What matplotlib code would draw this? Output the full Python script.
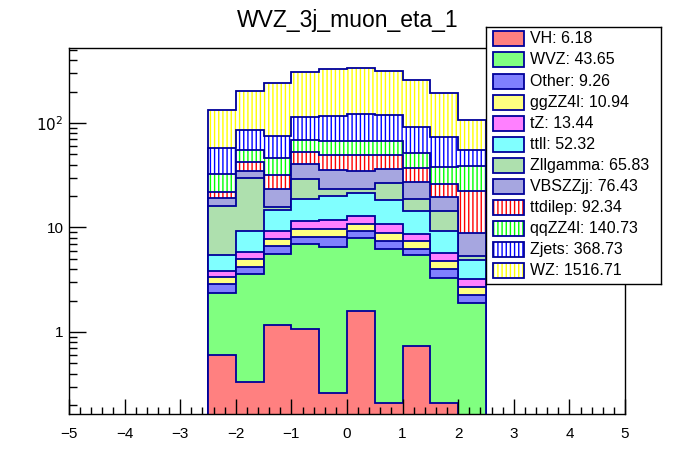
import numpy as np
import matplotlib
matplotlib.use("Agg")
import matplotlib.pyplot as plt
from matplotlib.patches import Rectangle
from matplotlib.ticker import FixedLocator, NullFormatter

plt.rcParams['font.family'] = ['Liberation Sans', 'DejaVu Sans']
plt.rcParams['hatch.linewidth'] = 1.0

edges = np.linspace(-2.5, 2.5, 11)

# bin contents per process, stacked bottom -> top
VH = [0.60, 0.33, 1.17, 1.07, 0.26, 1.59, 0.21, 0.74, 0.21, 0.0]
WVZ = [1.76, 3.26, 4.41, 5.88, 6.25, 6.35, 6.01, 4.72, 3.08, 1.90]
Other = [0.52, 0.60, 1.08, 1.16, 1.60, 1.32, 1.20, 0.77, 0.72, 0.37]
ggZZ4l = [0.48, 0.81, 1.11, 1.56, 1.56, 1.62, 1.43, 1.20, 0.77, 0.44]
tZ = [0.47, 0.84, 1.50, 1.77, 2.21, 2.09, 1.94, 1.24, 0.92, 0.52]
ttll = [1.62, 3.43, 5.45, 7.30, 8.14, 8.41, 7.53, 5.71, 3.56, 1.67]
Zllgamma = [10.61, 20.51, 1.00, 10.38, 3.34, 1.98, 8.33, 4.36, 5.12, 0.45]
VBSZZjj = [3.09, 4.96, 7.65, 11.41, 12.14, 11.37, 9.63, 8.51, 5.20, 3.52]
ttdilep = [2.71, 7.63, 8.44, 12.25, 13.90, 14.67, 13.11, 9.86, 6.50, 13.49]
qqZZ4l = [10.65, 12.80, 14.46, 15.99, 17.87, 17.87, 17.87, 14.52, 11.85, 16.43]
Zjets = [25.16, 30.54, 28.83, 45.33, 50.23, 54.63, 52.03, 39.92, 35.52, 16.38]
WZ = [75.5, 116.7, 166.3, 193.5, 211.1, 214.0, 195.2, 166.4, 120.3, 51.6]

names = ['VH', 'WVZ', 'Other', 'ggZZ4l', 'tZ', 'ttll', 'Zllgamma',
         'VBSZZjj', 'ttdilep', 'qqZZ4l', 'Zjets', 'WZ']
totals = [6.18, 43.65, 9.26, 10.94, 13.44, 52.32, 65.83,
          76.43, 92.34, 140.73, 368.73, 1516.71]
colors = ['#ff0000', '#00ff00', '#0000ff', '#ffff00', '#ff00ff', '#00ffff',
          '#5cc05c', '#4c4cc0', '#ff0000', '#00ff00', '#0000ff', '#ffff00']
styles = ['check'] * 8 + ['vline'] * 4
series = [VH, WVZ, Other, ggZZ4l, tZ, ttll, Zllgamma,
          VBSZZjj, ttdilep, qqZZ4l, Zjets, WZ]

edge_col = '#00009a'
ymin, ymax = 0.164, 522


def blend(c, f=0.5):
    rgb = np.array(matplotlib.colors.to_rgb(c))
    return tuple(rgb * f + (1 - f))


def draw_fill(ax, vals, col, style, base):
    if style == 'check':
        ax.stairs(vals, edges, baseline=base, fill=True,
                  facecolor=blend(col), linewidth=0)
    else:
        ax.stairs(vals, edges, baseline=base, fill=True,
                  facecolor='white', linewidth=0)
        ax.stairs(vals, edges, baseline=base, fill=True, facecolor='none',
                  edgecolor=col, hatch='||||', linewidth=0)


fig = plt.figure(figsize=(6.96, 4.72), dpi=100)
ax = fig.add_axes([69 / 696, 1 - 414 / 472, 556 / 696, 366 / 472])

cum = np.cumsum(np.array(series), axis=0)
base = 1e-3
for i in range(len(series) - 1, -1, -1):
    vals = np.where(cum[i] > 0, cum[i], base)
    draw_fill(ax, vals, colors[i], styles[i], base)
    ax.stairs(vals, edges, baseline=base, fill=False,
              color=edge_col, linewidth=1.3)

ax.set_yscale('log')
ax.set_xlim(-5, 5)
ax.set_ylim(ymin, ymax)
ax.yaxis.set_major_locator(FixedLocator([1, 10, 100]))
ax.set_yticklabels(['1', '10', r'$10^2$'])
ax.yaxis.set_minor_locator(FixedLocator(
    [k * 10.0 ** e for e in (-1, 0, 1, 2) for k in range(2, 10)]))
ax.yaxis.set_minor_formatter(NullFormatter())
ax.set_xticks(np.arange(-5, 6, 1))
ax.xaxis.set_minor_locator(FixedLocator(np.arange(-5, 5.01, 0.2)))
ax.tick_params(which='both', direction='in', top=False, right=False,
               labelsize=11, width=1)
ax.tick_params(axis='y', which='major', length=12, pad=4)
ax.tick_params(axis='y', which='minor', length=6)
ax.tick_params(axis='x', which='major', length=11, pad=9)
ax.tick_params(axis='x', which='minor', length=5)
for sp in ax.spines.values():
    sp.set_linewidth(1.0)

fig.text(0.5, 1 - 20 / 472, 'WVZ_3j_muon_eta_1', ha='center', va='center',
         fontsize=16.5)

# legend box, drawn in pixel units
lg = fig.add_axes([486 / 696, 1 - 284 / 472, 175 / 696, 257 / 472])
lg.set_xlim(0, 175)
lg.set_ylim(257, 0)
lg.set_xticks([])
lg.set_yticks([])
for sp in lg.spines.values():
    sp.set_linewidth(1.0)
for k in range(len(names)):
    yc = 11.8 + k * 21.1
    if styles[k] == 'check':
        lg.add_patch(Rectangle((7, yc - 7.5), 31, 15,
                               facecolor=blend(colors[k]), edgecolor='none'))
    else:
        lg.add_patch(Rectangle((7, yc - 7.5), 31, 15,
                               facecolor='white', edgecolor='none'))
        lg.add_patch(Rectangle((7, yc - 7.5), 31, 15, facecolor='none',
                               edgecolor=colors[k], hatch='||||', linewidth=0))
    lg.add_patch(Rectangle((7, yc - 7.5), 31, 15, facecolor='none',
                           edgecolor=edge_col, linewidth=1.3))
    lg.text(44, yc, f'{names[k]}: {totals[k]:.2f}', va='center', ha='left',
            fontsize=11.5)

fig.savefig('out.png', dpi=100)
